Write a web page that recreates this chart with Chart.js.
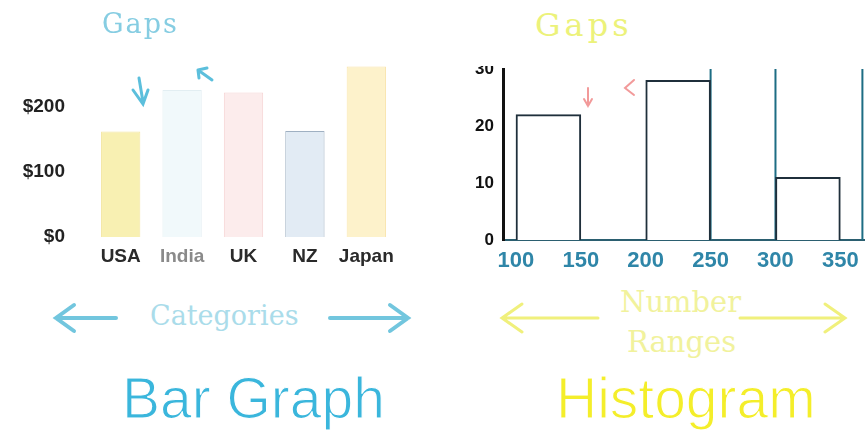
<!DOCTYPE html>
<html>
<head>
<meta charset="utf-8">
<script src="https://cdn.jsdelivr.net/npm/chart.js@4.4.1/dist/chart.umd.min.js"></script>
<style>
  body { margin:0; background:#fff; width:865px; height:435px; position:relative; overflow:hidden;
         font-family:"Liberation Sans", Arial, sans-serif; }
  canvas, .t, svg { position:absolute; }
  .t { white-space:nowrap; }
  .hand { font-family:"DejaVu Serif", "Liberation Serif", serif; }
  .big { font-size:57px; line-height:64px; -webkit-text-stroke:1.2px #fff; }
</style>
</head>
<body>
<canvas id="barChart" width="430" height="280" style="left:0;top:0"></canvas>
<canvas id="histChart" width="435" height="214" style="left:430px;top:66px"></canvas>

<div class="t hand" style="left:102px;top:8px;font-size:27px;color:#86cde2;letter-spacing:2px">Gaps</div>
<div class="t hand" style="left:535px;top:6px;font-size:32px;color:#ecf27a;letter-spacing:4px">Gaps</div>
<div class="t hand" style="left:150px;top:300px;font-size:27px;color:#aadcea">Categories</div>
<div class="t hand" style="left:620px;top:285px;font-size:29px;color:#f1f29c">Number</div>
<div class="t hand" style="left:627px;top:325px;font-size:29px;color:#f1f29c">Ranges</div>
<div class="t big" style="left:122px;top:366px;color:#3ab6dc">Bar Graph</div>
<div class="t big" style="left:556px;top:366px;color:#f4ee2a">Histogram</div>

<svg width="865" height="435" style="left:0;top:0" fill="none" stroke-linecap="round">
  <g stroke="#5cbfdc" stroke-width="3">
    <path d="M139 78 L143 102 M133 90 L143 104 L148 90"/>
    <path d="M198 70 L212 80 M198 70 L207 68 M198 70 L199 78"/>
  </g>
  <g stroke="#f29a9a" stroke-width="2">
    <path d="M588 88 L588 106 M584 99 L588 106 L592 99"/>
    <path d="M634 80 L625 88 L634 95"/>
  </g>
  <g stroke="#72c6de" stroke-width="4">
    <path d="M56 318 L116 318 M74 305 L56 318 L74 331"/>
    <path d="M330 318 L408 318 M390 305 L408 318 L390 331"/>
  </g>
  <g stroke="#f0f07c" stroke-width="3">
    <path d="M502 318 L598 318 M522 304 L502 318 L522 332"/>
    <path d="M740 318 L845 318 M825 304 L845 318 L825 332"/>
  </g>
</svg>

<script>
// bar graph: spending by country
var countries = ["USA", "India", "UK", "NZ", "Japan"];
var spending = [162, 226, 222, 163, 262];
var moneyTicks = [0, 100, 200];

// histogram: counts per number range
var binStarts = [100, 150, 200, 250, 300];
var binCounts = [22, 0, 28, 0, 11];
var rangeTicks = [100, 150, 200, 250, 300, 350];
var countTicks = [0, 10, 20, 30];
var edgeLines = [250, 300, 367];   // teal uprights seen in the scan

var barFill = ["#f8f0b2", "#f1f9fb", "#fcecec", "#e2ebf4", "#fdf2cb"];
var barEdge = ["#f3e6a0", "#e2eef2", "#f6d4d4", "#9fb0c2", "#f9e3a8"];
var narrow = "'Liberation Sans Narrow', 'Liberation Sans', Arial, sans-serif";

new Chart(document.getElementById("barChart"), {
  type: 'bar',
  data: {
    labels: countries,
    datasets: [{
      data: spending,
      backgroundColor: barFill,
      borderColor: barEdge,
      borderWidth: 1,
      barPercentage: 0.64,
      categoryPercentage: 1
    }]
  },
  options: {
    responsive: false,
    animation: false,
    layout: { padding: { top: 60, right: 33, left: 0, bottom: 0 } },
    plugins: { legend: { display: false }, tooltip: { enabled: false } },
    scales: {
      x: {
        grid: { display: false, drawTicks: false },
        border: { display: false },
        ticks: {
          font: { size: 19, weight: 'bold', family: "'Liberation Sans', Arial, sans-serif" },
          color: function(c) { return c.index == 1 ? '#8a8a8a' : '#2a2a2a'; },
          padding: 8
        },
        afterFit: function(s) { s.height = 43; }
      },
      y: {
        min: 0,
        max: 272,
        grid: { display: false, drawTicks: false },
        border: { display: false },
        afterBuildTicks: function(s) { s.ticks = moneyTicks.map(function(v) { return { value: v }; }); },
        ticks: {
          callback: function(v) { return '$' + v; },
          font: { size: 19, weight: 'bold', family: narrow },
          color: '#222',
          padding: 25
        },
        afterFit: function(s) { s.width = 90; }
      }
    }
  }
});

var yTop = countTicks[countTicks.length - 1];
var edgePoints = [];
edgeLines.forEach(function(v) {
  edgePoints.push({ x: v, y: 0 }, { x: v, y: yTop }, { x: v, y: null });
});

new Chart(document.getElementById("histChart"), {
  type: 'bar',
  data: {
    datasets: [{
      type: 'line',
      data: edgePoints,
      borderColor: '#1d6d84',
      borderWidth: 2,
      pointRadius: 0,
      spanGaps: false,
      order: 2
    }, {
      data: binStarts.map(function(s, i) { return { x: s + 25, y: binCounts[i] }; }),
      backgroundColor: '#fff',
      borderColor: '#1f2f3b',
      borderWidth: 2,
      barPercentage: 1,
      categoryPercentage: 1,
      order: 1
    }]
  },
  options: {
    responsive: false,
    animation: false,
    layout: { padding: { top: 3, right: 0, left: 0, bottom: 0 } },
    plugins: { legend: { display: false }, tooltip: { enabled: false } },
    scales: {
      x: {
        type: 'linear',
        min: 90,
        max: 369,
        offset: false,
        grid: { display: false, drawTicks: false },
        border: { color: '#2b5f70', width: 2 },
        afterBuildTicks: function(s) { s.ticks = rangeTicks.map(function(v) { return { value: v }; }); },
        ticks: {
          font: { size: 22, weight: 'bold', family: narrow },
          color: '#2f86a8',
          padding: 8,
          maxRotation: 0
        },
        afterFit: function(s) { s.height = 40; s.paddingLeft = 0; s.paddingRight = 0; }
      },
      y: {
        min: 0,
        max: yTop,
        grid: { display: false, drawTicks: false },
        border: { color: '#111', width: 3 },
        afterBuildTicks: function(s) { s.ticks = countTicks.map(function(v) { return { value: v }; }); },
        ticks: {
          font: { size: 17, weight: 'bold', family: "'Liberation Sans', Arial, sans-serif" },
          color: '#111',
          padding: 9
        },
        // the scan cuts the top label, so let the area run up to the edge
        afterFit: function(s) { s.width = 73; s.paddingTop = 0; s.paddingBottom = 0; }
      }
    }
  }
});
</script>
</body>
</html>
